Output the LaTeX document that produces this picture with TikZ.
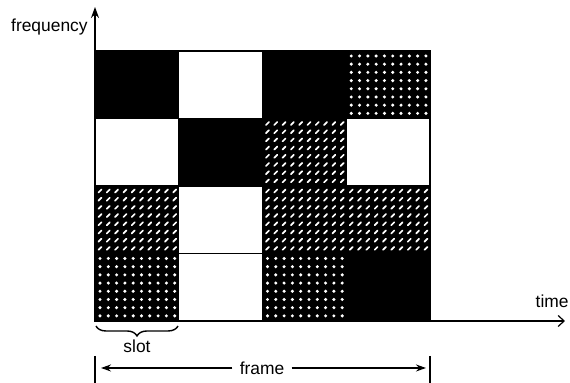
\documentclass[tikz,border=0pt]{standalone}
\usepackage{fontspec}
\setmainfont{Liberation Sans}
\usetikzlibrary{
arrows.meta,
positioning,
decorations.pathreplacing,
calc
}

\begin{document}
\begin{tikzpicture}[
x=0.5pt,y=-0.5pt,
font=\fontsize{8.7}{11}\selectfont,
axis/.style={line width=0.6pt,-{Stealth[length=5.5pt,width=4pt]}},
timeaxis/.style={line width=0.6pt,-{Straight Barb[length=3pt,width=5.5pt]}},
span/.style={line width=0.6pt,-{Stealth[length=5pt,width=3.5pt]}},
tick/.style={line width=0.7pt},
cell/.style={fill=black},
grid/.style={line width=0.6pt},
rounddot/.style={fill=white},
slantdot/.style={draw=white,line width=0.85pt,line cap=round}
]
\useasboundingbox (0,0) rectangle (570,383);

\coordinate (o) at (95,321);
\coordinate (ftop) at (95,7);
\coordinate (tend) at (565,321);

% black slots
\foreach \c/\r in {1/1,3/1,2/2,4/4}{
\fill[cell] ({95+83.75*(\c-1)},{51+67.5*(\r-1)}) rectangle ++(83.75,67.5);
}

% round dotted slots
\foreach \c/\r in {4/1,1/4,3/4}{
\fill[cell] ({95+83.75*(\c-1)},{51+67.5*(\r-1)}) rectangle ++(83.75,67.5);
\foreach \i in {0,...,9}
\foreach \j in {0,...,7}
\fill[rounddot] ({95+83.75*(\c-1)+5+8.3*\i},{51+67.5*(\r-1)+5+8.2*\j}) circle[radius=0.85pt];
}

% slanted dotted slots
\foreach \c/\r in {3/2,1/3,3/3,4/3}{
\fill[cell] ({95+83.75*(\c-1)},{51+67.5*(\r-1)}) rectangle ++(83.75,67.5);
\foreach \i in {0,...,9}
\foreach \j in {0,...,7}
\draw[slantdot] ({95+83.75*(\c-1)+3.5+8.3*\i},{51+67.5*(\r-1)+6.5+8.2*\j}) -- ++(3,-3);
}

\draw[grid] (95,51) rectangle (430,321);
\foreach \c in {1,2,3}
\draw[grid] ({95+83.75*\c},51) -- ++(0,270);
\foreach \r in {1,2,3}
\draw[grid] (95,{51+67.5*\r}) -- ++(335,0);

\draw[axis] (o) -- (ftop);
\draw[timeaxis] (o) -- (tend);

\node[anchor=base east,inner sep=0pt] (freq) at (88,32) {frequency};
\node[anchor=base east,inner sep=0pt] (time) at (569,308) {time};

\coordinate (bracer) at (178,326);
\coordinate (bracel) at (96,326);
\draw[decorate,decoration={brace,amplitude=5pt},line width=0.7pt] (bracer) -- (bracel);
\node[anchor=base,inner sep=0pt] (slot) at (137,353) {slot};

\coordinate (fltop) at (95,356);
\coordinate (flbot) at (95,383);
\coordinate (frtop) at (430,356);
\coordinate (frbot) at (430,383);
\draw[tick] (fltop) -- (flbot);
\draw[tick] (frtop) -- (frbot);

\node[inner sep=3.5pt] (framelbl) at (262,368) {frame};
\coordinate (fl) at (101,368);
\coordinate (fr) at (426,368);
\draw[span] (framelbl) -- (fl);
\draw[span] (framelbl) -- (fr);

\end{tikzpicture}
\end{document}
